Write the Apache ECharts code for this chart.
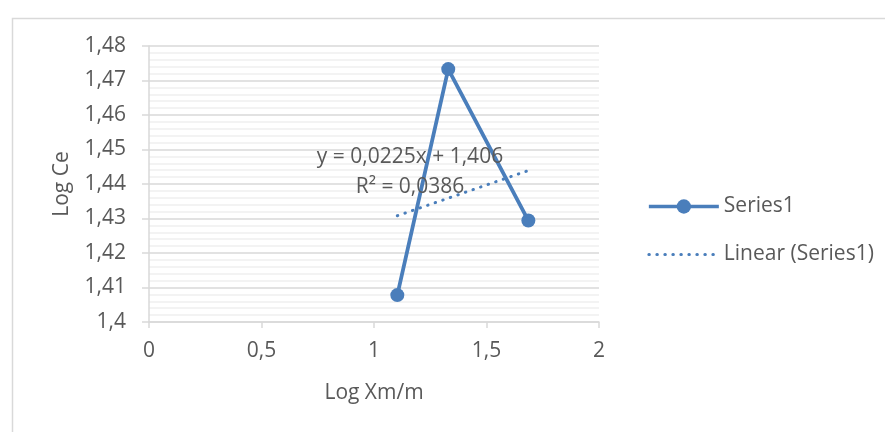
<!DOCTYPE html>
<html>
<head>
<meta charset="utf-8">
<script src="https://cdn.jsdelivr.net/npm/echarts@6/dist/echarts.min.js"></script>
<style>
html,body{margin:0;padding:0;background:#fff;}
#c{width:885px;height:432px;}
</style>
</head>
<body>
<div id="c"></div>
<script>
// Data
var seriesName = 'Series1';
var trendName = 'Linear (Series1)';
var xValues = [1.1036, 1.330, 1.686];
var yValues = [1.4078, 1.4733, 1.4294];
var trendX = [1.1036, 1.686];
var trendY = [1.4308, 1.4439];
var equationText = 'y = 0,0225x + 1,406';
var r2Text = 'R² = 0,0386';
var xTicks = [0, 0.5, 1, 1.5, 2];
var yTicks = [1.40, 1.41, 1.42, 1.43, 1.44, 1.45, 1.46, 1.47, 1.48];

var FONT = '"Open Sans", Lato, sans-serif';
var TXT = '#595959';
var BLUE = '#4a7ebb';
var FS = 21;

function comma(v){
  var s = (Math.round(v*1000)/1000).toString();
  return s.replace('.', ',');
}

var mainData = xValues.map(function(x,i){return [x, yValues[i]];});
var trendData = trendX.map(function(x,i){return [x, trendY[i]];});

var chart = echarts.init(document.getElementById('c'), null, {renderer:'canvas'});
chart.setOption({
  animation:false,
  backgroundColor:'#fff',
  textStyle:{fontFamily:FONT},
  grid:{left:149, top:46, width:450, height:276, containLabel:false},
  xAxis:{
    type:'value', min:xTicks[0], max:xTicks[xTicks.length-1], interval:0.5,
    name:'Log Xm/m', nameLocation:'middle', nameGap:61,
    nameTextStyle:{color:TXT, fontSize:FS, fontFamily:FONT},
    axisLine:{show:true, lineStyle:{color:'#d9d9d9', width:1.5}},
    axisTick:{show:true, length:6, lineStyle:{color:'#d9d9d9', width:1.5}},
    axisLabel:{color:TXT, fontSize:FS, fontFamily:FONT, margin:19, formatter:comma},
    splitLine:{show:false}
  },
  yAxis:{
    type:'value', min:yTicks[0], max:yTicks[yTicks.length-1], interval:0.01,
    name:'Log Ce', nameLocation:'middle', nameGap:76, nameRotate:90,
    nameTextStyle:{color:TXT, fontSize:FS, fontFamily:FONT},
    axisLine:{show:true, lineStyle:{color:'#d9d9d9', width:1.5}},
    axisTick:{show:true, length:7, lineStyle:{color:'#d9d9d9', width:1.5}},
    axisLabel:{color:TXT, fontSize:FS, fontFamily:FONT, margin:23, formatter:comma},
    splitLine:{show:true, lineStyle:{color:'#d9d9d9', width:1.5}},
    minorTick:{show:false, splitNumber:5},
    minorSplitLine:{show:true, lineStyle:{color:'#efefef', width:1.5}}
  },
  legend:{
    orient:'vertical', left:642, top:191, itemGap:27,
    itemWidth:70, itemHeight:18,
    textStyle:{color:TXT, fontSize:FS, fontFamily:FONT},
    data:[
      {name:seriesName, lineStyle:{width:3.7}},
      {name:trendName, itemStyle:{opacity:0}, lineStyle:{width:3, type:[0.5,7.5], cap:'round'}}
    ]
  },
  series:[
    {
      name:seriesName, type:'line', data:mainData,
      symbol:'circle', symbolSize:14,
      itemStyle:{color:BLUE},
      lineStyle:{color:BLUE, width:3.8},
      z:3
    },
    {
      name:trendName, type:'line', data:trendData,
      symbol:'none', showSymbol:false,
      itemStyle:{color:BLUE},
      lineStyle:{color:BLUE, width:3, type:[0.5,7.5], cap:'round'},
      z:2
    }
  ],
  graphic:[
    {type:'rect', left:10, top:16, silent:true, z:-10,
     shape:{width:900, height:500},
     style:{fill:'none', stroke:'#d9d9d9', lineWidth:1.5}},
    {type:'text', silent:true, z:10, x:410, y:157,
     style:{text:equationText, x:0, y:0, align:'center', verticalAlign:'middle',
            fill:TXT, font:FS+'px "Open Sans", Lato, sans-serif'}},
    {type:'text', silent:true, z:10, x:410, y:187,
     style:{text:r2Text, x:0, y:0, align:'center', verticalAlign:'middle',
            fill:TXT, font:FS+'px "Open Sans", Lato, sans-serif'}}
  ]
});
</script>
</body>
</html>
